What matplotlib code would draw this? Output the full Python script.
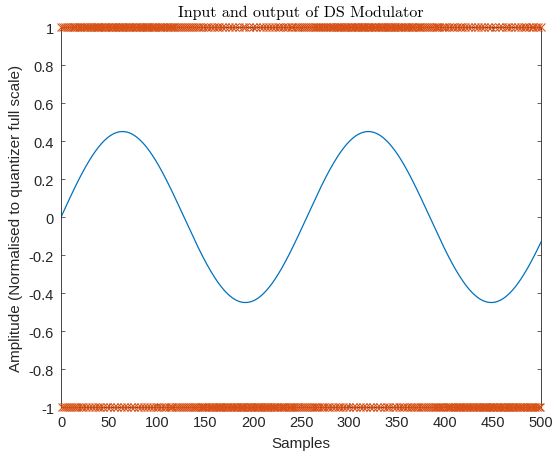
import numpy as np
import matplotlib
matplotlib.use("Agg")
import matplotlib.pyplot as plt

# signal parameters
AMPLITUDE = 0.45      # peak of the input sine
PERIOD = 256          # samples per cycle (peaks at ~64 and ~320)
N_SAMPLES = 501       # samples 0..500

plt.rcParams['font.family'] = ['Liberation Sans', 'DejaVu Sans']
plt.rcParams['axes.unicode_minus'] = False

n = np.arange(N_SAMPLES)
x_in = AMPLITUDE * np.sin(2 * np.pi * n / PERIOD)

# first order delta-sigma loop, 1-bit quantiser
y_out = np.zeros(N_SAMPLES)
integ = 0.0
prev = 0.0
for i in range(N_SAMPLES):
    integ += x_in[i] - prev
    y_out[i] = 1.0 if integ >= 0 else -1.0
    prev = y_out[i]

fig = plt.figure(figsize=(5.55, 4.6), dpi=100)
ax = fig.add_axes([0.110, 0.113, 0.865, 0.826])

ax.plot(n, x_in, color='#0072BD', linewidth=0.9)
ax.plot(n, y_out, linestyle='none', marker='x', color='#D95319',
        markersize=5.5, markeredgewidth=0.8, clip_on=False, zorder=3)

ax.set_xlim(0, 500)
ax.set_ylim(-1, 1)
ax.set_xticks(np.arange(0, 501, 50))
ax.set_yticks(np.round(np.arange(-1, 1.01, 0.2), 1))
ax.set_yticklabels(['-1', '-0.8', '-0.6', '-0.4', '-0.2', '0',
                    '0.2', '0.4', '0.6', '0.8', '1'])
ax.tick_params(direction='in', length=3, width=0.5, labelsize=10.5,
               colors='#262626', top=True, right=True)
ax.tick_params(axis='x', pad=6)
ax.tick_params(axis='y', pad=5)
for s in ax.spines.values():
    s.set_linewidth(0.6)
    s.set_color('#262626')

ax.set_xlabel('Samples', fontsize=11, color='#262626', labelpad=5)
ax.set_ylabel('Amplitude (Normalised to quantizer full scale)', fontsize=11,
              color='#262626', labelpad=4)
ax.set_title('Input and output of DS Modulator', fontsize=11.5,
             family=['cmr10', 'DejaVu Serif'], pad=8)

fig.savefig('out.png', dpi=100)
